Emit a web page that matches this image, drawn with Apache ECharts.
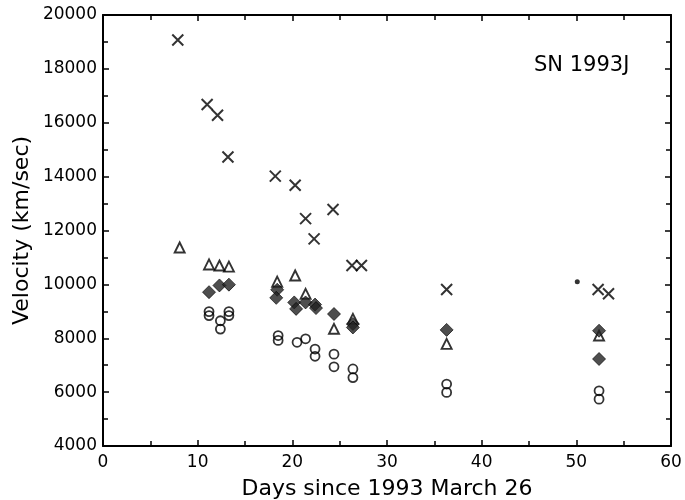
<!DOCTYPE html>
<html>
<head>
<meta charset="utf-8">
<script src="https://cdn.jsdelivr.net/npm/echarts@6/dist/echarts.min.js"></script>
<style>html,body{margin:0;padding:0;background:#fff}#c{width:685px;height:500px}</style>
</head>
<body>
<div id="c"></div>
<script>
const crossDays = [7.9, 11.0, 12.1, 13.2, 18.2, 20.3, 21.4, 22.3, 24.3, 26.3, 27.3, 36.3, 52.3, 53.4];
const crossVel  = [19070, 16680, 16280, 14730, 14020, 13680, 12440, 11690, 12780, 10700, 10700, 9810, 9810, 9650];
const triDays = [8.1, 11.2, 12.3, 13.3, 18.4, 20.3, 21.4, 24.4, 26.4, 36.3, 52.4];
const triVel  = [11370, 10740, 10700, 10660, 10100, 10330, 9650, 8350, 8720, 7790, 8100];
const diaDays = [11.2, 12.3, 13.3, 18.4, 18.3, 20.2, 20.4, 21.4, 22.4, 22.5, 24.4, 26.4, 26.4, 36.3, 52.4, 52.4];
const diaVel  = [9710, 9960, 9990, 9800, 9500, 9330, 9090, 9330, 9250, 9120, 8900, 8530, 8400, 8310, 8280, 7230];
const circDays = [11.2, 11.2, 12.4, 12.4, 13.3, 13.3, 18.5, 18.5, 20.5, 21.4, 22.4, 22.4, 24.4, 24.4, 26.4, 26.4, 36.3, 36.3, 52.4, 52.4];
const circVel  = [8990, 8840, 8650, 8340, 8990, 8840, 8100, 7920, 7850, 7980, 7600, 7330, 7410, 6940, 6860, 6540, 6300, 5990, 6050, 5740];
const dotDays = [50.1];
const dotVel = [10100];
const xTicks = [0, 10, 20, 30, 40, 50, 60];
const yTicks = [4000, 6000, 8000, 10000, 12000, 14000, 16000, 18000, 20000];

const zip = (a, b) => a.map((v, i) => [v, b[i]]);
const font = 'DejaVu Sans';
function axisBase() {
  return {
    type: 'value',
    axisLine: { show: true, onZero: false, lineStyle: { color: '#000', width: 2 } },
    axisTick: { show: true, inside: true, length: 6, lineStyle: { color: '#000', width: 1.5 } },
    minorTick: { show: true, splitNumber: 2, length: 5, lineStyle: { color: '#000', width: 1.5 } },
    splitLine: { show: false }
  };
}
const xMain = Object.assign(axisBase(), {
  position: 'bottom', min: xTicks[0], max: xTicks[xTicks.length - 1], interval: 10,
  name: 'Days since 1993 March 26', nameLocation: 'middle', nameGap: 32, nameMoveOverlap: false,
  nameTextStyle: { fontFamily: font, fontSize: 22, color: '#000' },
  axisLabel: { fontFamily: font, fontSize: 17, color: '#000', margin: 8, formatter: v => String(v) }
});
const xTop = Object.assign(axisBase(), {
  position: 'top', min: xTicks[0], max: xTicks[xTicks.length - 1], interval: 10,
  axisLabel: { show: false }
});
const yMain = Object.assign(axisBase(), {
  position: 'left', min: yTicks[0], max: yTicks[yTicks.length - 1], interval: 2000,
  name: 'Velocity (km/sec)', nameLocation: 'middle', nameGap: 70, nameRotate: 90, nameMoveOverlap: false,
  nameTextStyle: { fontFamily: font, fontSize: 22, color: '#000' },
  axisLabel: { fontFamily: font, fontSize: 17, color: '#000', margin: 6, formatter: v => String(v) }
});
const yRight = Object.assign(axisBase(), {
  position: 'right', min: yTicks[0], max: yTicks[yTicks.length - 1], interval: 2000,
  axisLabel: { show: false }
});

const chart = echarts.init(document.getElementById('c'), null, { renderer: 'canvas' });
chart.setOption({
  animation: false,
  backgroundColor: '#fff',
  grid: { left: 103, right: 14, top: 15, bottom: 54, containLabel: false, outerBoundsMode: 'none' },
  title: {
    text: 'SN 1993J', left: 529, top: 50,
    textStyle: { fontFamily: font, fontSize: 21, fontWeight: 'normal', color: '#000' }
  },
  xAxis: [xMain, xTop],
  yAxis: [yMain, yRight],
  series: [
    { type: 'scatter', name: 'cross', data: zip(crossDays, crossVel),
      symbol: 'path://M0,0L10,10M10,0L0,10', symbolSize: 11,
      itemStyle: { color: 'none', borderColor: '#000', borderWidth: 2 } },
    { type: 'scatter', name: 'triangle', data: zip(triDays, triVel),
      symbol: 'triangle', symbolSize: 10,
      itemStyle: { color: 'none', borderColor: '#000', borderWidth: 1.9 } },
    { type: 'scatter', name: 'diamond', data: zip(diaDays, diaVel),
      symbol: 'diamond', symbolSize: 13,
      itemStyle: { color: '#222', borderColor: '#000', borderWidth: 0.8 } },
    { type: 'scatter', name: 'circle', data: zip(circDays, circVel),
      symbol: 'circle', symbolSize: 9,
      itemStyle: { color: 'none', borderColor: '#000', borderWidth: 1.8 } },
    { type: 'scatter', name: 'dot', data: zip(dotDays, dotVel),
      symbol: 'circle', symbolSize: 5,
      itemStyle: { color: '#000' } }
  ]
});
</script>
</body>
</html>
